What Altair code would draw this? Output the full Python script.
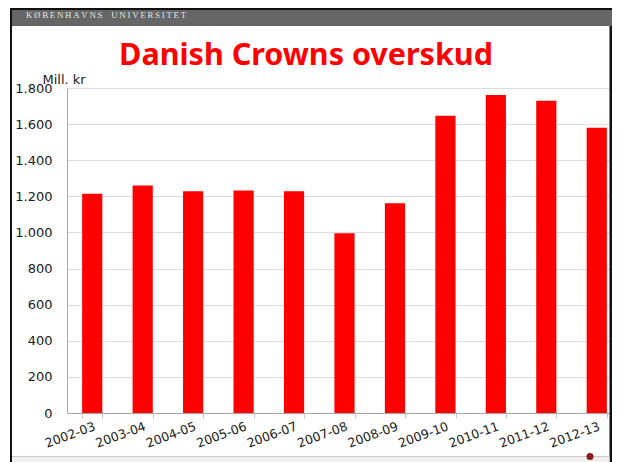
import altair as alt
import pandas as pd

# ---- data ----
seasons = ["2002-03", "2003-04", "2004-05", "2005-06", "2006-07", "2007-08",
           "2008-09", "2009-10", "2010-11", "2011-12", "2012-13"]
surplus = [1215, 1260, 1228, 1232, 1228, 996, 1162, 1646, 1761, 1730, 1580]
y_ticks = [0, 200, 400, 600, 800, 1000, 1200, 1400, 1600, 1800]

title_text = "Danish Crowns overskud"
header_text = "\u2009".join("KØBENHAVNS") + "\u2003" + "\u2009".join("UNIVERSITET")
y_unit = "Mill. kr"

df = pd.DataFrame({"season": seasons, "value": surplus})
dummy = pd.DataFrame({"d": [0]})

W, H = 545, 325      # visible plot area (page is only 620 px wide)
BAND_W = 555         # the category axis continues past the slide's right edge
FONT = "DejaVu Sans"

bars = alt.Chart(df).mark_bar(color="#ff0000").encode(
    x=alt.X("season:N", sort=seasons,
            scale=alt.Scale(paddingInner=0.6, paddingOuter=0.3, range=[0, BAND_W]),
            axis=alt.Axis(title=None, labelAngle=340, labelAlign="right",
                          labelBaseline="top", labelFont=FONT, labelFontSize=12.5,
                          labelColor="#1a1a1a", labelPadding=2,
                          domainColor="#a6a6a6", tickColor="#c8c8c8",
                          tickSize=5, tickBand="extent", grid=False)),
    y=alt.Y("value:Q", scale=alt.Scale(domain=[0, 1800], nice=False),
            axis=alt.Axis(values=y_ticks, title=y_unit, titleAngle=0,
                          titleAlign="left", titleBaseline="alphabetic",
                          titleX=-25, titleY=-5, titleFont=FONT,
                          titleFontSize=13, titleFontWeight="normal",
                          titleColor="#1a1a1a",
                          labelExpr="replace(format(datum.value, ','), ',', '.')",
                          labelFont=FONT, labelFontSize=13, labelColor="#1a1a1a",
                          labelPadding=15, ticks=False, domainColor="#a6a6a6",
                          gridColor="#dcdcdc")),
)

def rect(x, x2, y, y2, color):
    return alt.Chart(dummy).mark_rect(color=color).encode(
        x=alt.value(x), x2=alt.value(x2), y=alt.value(y), y2=alt.value(y2))

header = rect(-55, 545, -78, -62, "#666666")
top_border = rect(-57, 545, -80, -78, "#111111")
left_border = rect(-57, -55, -80, 374, "#111111")
right_border = rect(542.5, 545, -62, 374, "#111111")
bottom_fill = rect(-55, 542.5, 368.5, 374, "#efefef")
bottom_line = rect(-55, 542.5, 368, 369, "#d4c6c6")

header_label = alt.Chart(dummy).mark_text(
    text=header_text, font="Liberation Serif", fontSize=8.8, color="#e4e4e4",
    align="left", baseline="alphabetic").encode(x=alt.value(-41), y=alt.value(-69.7))

title = alt.Chart(dummy).mark_text(
    text=title_text, font="Noto Sans", fontSize=30.5, fontWeight="bold",
    color="#ff0000", align="center", baseline="alphabetic").encode(
    x=alt.value(239), y=alt.value(-23.5))

dot = alt.Chart(dummy).mark_circle(color="#8b1a1a", opacity=1, size=50).encode(
    x=alt.value(523), y=alt.value(368.5))

chart = alt.layer(
    bars, header, top_border, left_border, right_border,
    bottom_fill, bottom_line, dot, header_label, title
).properties(
    width=W, height=H,
    autosize=alt.AutoSizeParams(type="none"),
    padding={"left": 59, "top": 80, "right": 0, "bottom": 49},
    background="white",
).configure_view(strokeWidth=0)

chart.save("out.html", embed_options={"renderer": "svg", "actions": False})
